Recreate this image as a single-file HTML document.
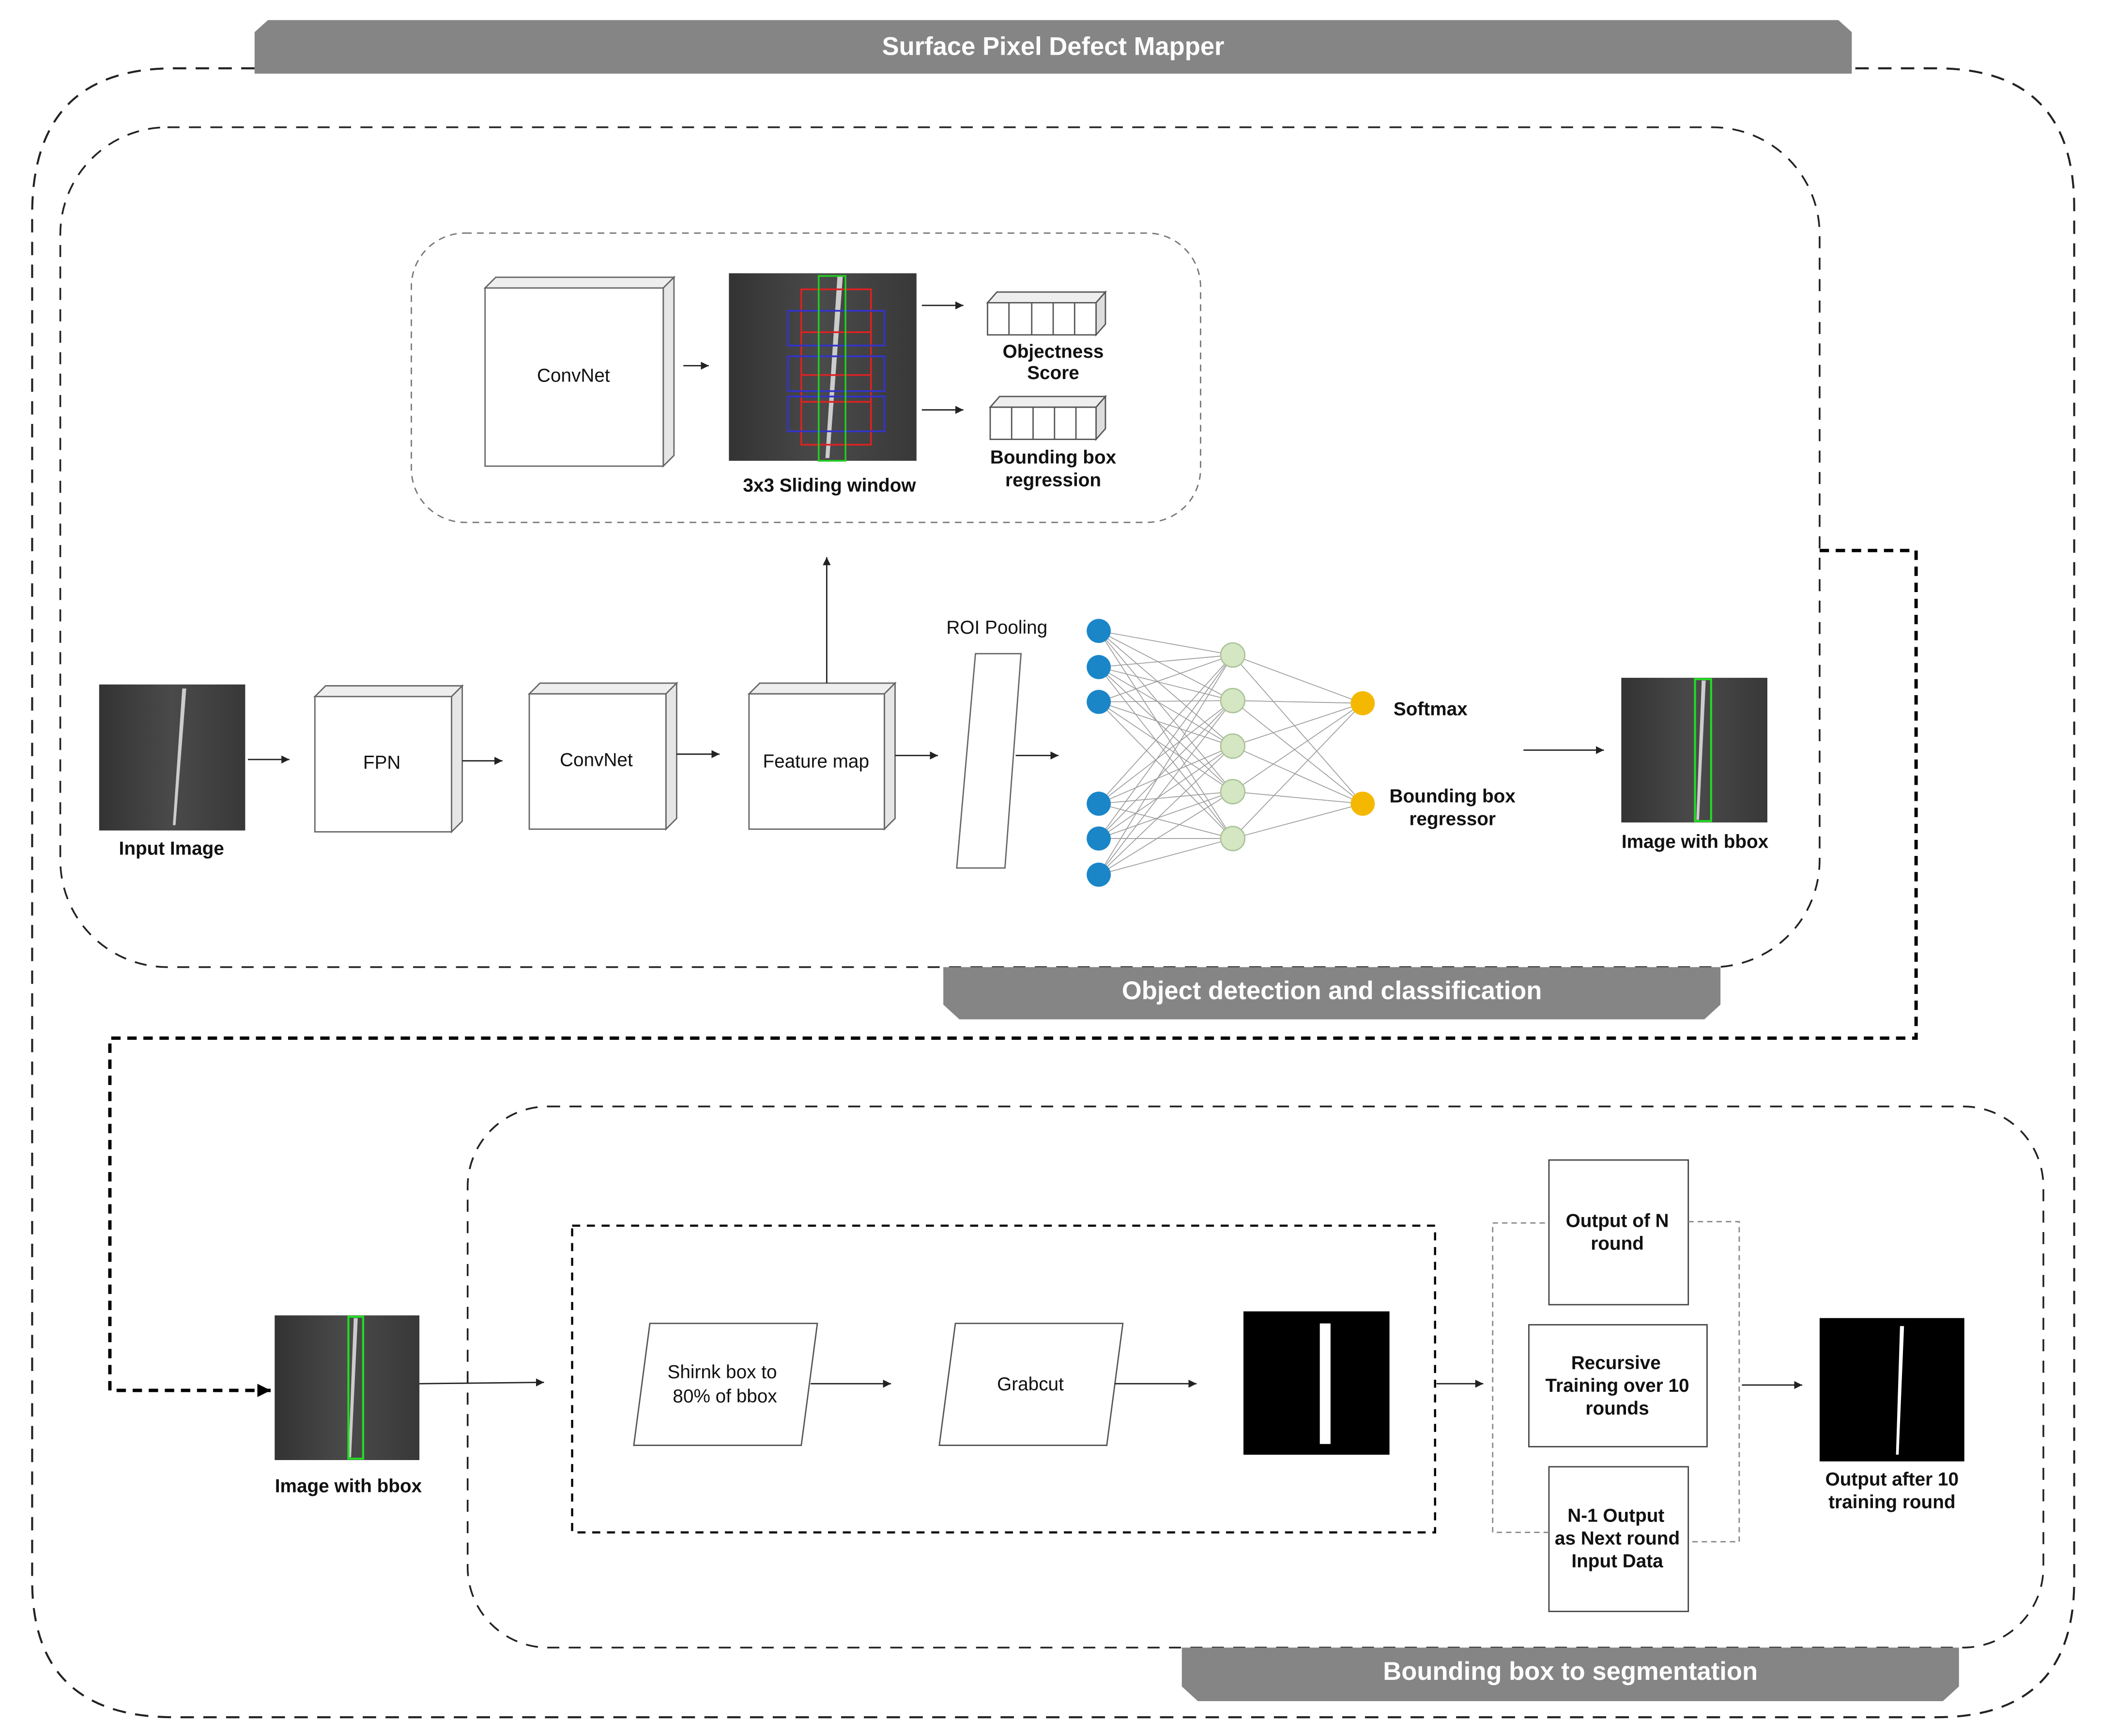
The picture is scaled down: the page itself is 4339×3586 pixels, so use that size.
<!DOCTYPE html>
<html><head><meta charset="utf-8"><style>
html,body{margin:0;padding:0;background:#fff}
svg{display:block}
text{font-family:"Liberation Sans",sans-serif;fill:#111}
</style></head><body>
<svg width="4339" height="3586" viewBox="0 0 1568 1296" preserveAspectRatio="none" xmlns="http://www.w3.org/2000/svg">
<defs>
<marker id="a" markerWidth="8" markerHeight="8" refX="6" refY="3" orient="auto" markerUnits="userSpaceOnUse"><path d="M0,0 L6,3 L0,6 z" fill="#222"/></marker>
<marker id="b" markerWidth="14" markerHeight="14" refX="10" refY="5" orient="auto" markerUnits="userSpaceOnUse"><path d="M0,0 L10,5 L0,10 z" fill="#000"/></marker>
<linearGradient id="g" x1="0" x2="1"><stop offset="0" stop-color="#333"/><stop offset="0.5" stop-color="#4a4a4a"/><stop offset="1" stop-color="#383838"/></linearGradient>
</defs>
<rect width="1568" height="1296" fill="#fff"/>

<path d="M190,51 L130,51 Q24,51 24,160 L24,1180 Q24,1282 130,1282 L1445,1282 Q1548,1282 1548,1180 L1548,155 Q1548,51 1445,51 L1382,51" fill="none" stroke="#222" stroke-width="1.5" stroke-dasharray="10,7"/>
<path d="M190,55 L190,24 L200,15 L1372,15 L1382,24 L1382,55 z" fill="#858585"/>
<text x="786" y="41" text-anchor="middle" font-size="19" font-weight="bold" style="fill:#fff">Surface Pixel Defect Mapper</text>

<rect x="45" y="95" width="1313" height="627" rx="80" fill="none" stroke="#222" stroke-width="1.3" stroke-dasharray="9,7"/>
<path d="M704,722 L1284,722 L1284,750 L1272,761 L716,761 L704,750 z" fill="#858585"/>
<text x="994" y="746" text-anchor="middle" font-size="19" font-weight="bold" style="fill:#fff">Object detection and classification</text>

<rect x="307" y="174" width="589" height="216" rx="40" fill="none" stroke="#777" stroke-width="1" stroke-dasharray="5,4"/>

<g fill="#fff" stroke="#666" stroke-width="1">
<path d="M362,215 L370,207 L503,207 L495,215 z" fill="#eee"/><path d="M495,215 L503,207 L503,340 L495,348 z" fill="#e6e6e6"/><rect x="362" y="215" width="133" height="133"/>
<path d="M235,520 L243,512 L345,512 L337,520 z" fill="#eee"/><path d="M337,520 L345,512 L345,613 L337,621 z" fill="#e6e6e6"/><rect x="235" y="520" width="102" height="101"/>
<path d="M395,518 L403,510 L505,510 L497,518 z" fill="#eee"/><path d="M497,518 L505,510 L505,611 L497,619 z" fill="#e6e6e6"/><rect x="395" y="518" width="102" height="101"/>
<path d="M559,518 L567,510 L668,510 L660,518 z" fill="#eee"/><path d="M660,518 L668,510 L668,611 L660,619 z" fill="#e6e6e6"/><rect x="559" y="518" width="101" height="101"/>
<path d="M728,488 L762,488 L750,648 L714,648 z"/>
</g>
<text x="428" y="285" text-anchor="middle" font-size="14">ConvNet</text>
<text x="285" y="574" text-anchor="middle" font-size="14">FPN</text>
<text x="445" y="572" text-anchor="middle" font-size="14">ConvNet</text>
<text x="609" y="573" text-anchor="middle" font-size="14">Feature map</text>
<text x="744" y="473" text-anchor="middle" font-size="14">ROI Pooling</text>

<rect x="544" y="204" width="140" height="140" fill="url(#g)"/>
<path d="M625,206 L629,206 L619,342 L616,342 z" fill="#ccc"/>
<g fill="none" stroke-width="1.3">
<rect x="598" y="216" width="52" height="116" stroke="#d22"/>
<line x1="598" y1="248" x2="650" y2="248" stroke="#d22"/><line x1="598" y1="280" x2="650" y2="280" stroke="#d22"/><line x1="598" y1="300" x2="650" y2="300" stroke="#d22"/>
<rect x="588" y="232" width="72" height="26" stroke="#33c"/><rect x="588" y="266" width="72" height="26" stroke="#33c"/><rect x="588" y="296" width="72" height="26" stroke="#33c"/>
<rect x="611" y="206" width="20" height="138" stroke="#2c2"/>
</g>
<text x="619" y="367" text-anchor="middle" font-size="14" font-weight="bold">3x3 Sliding window</text>

<g fill="#fff" stroke="#555" stroke-width="1">
<path d="M737,226 L744,218 L825,218 L818,226 z" fill="#eee"/><path d="M818,226 L825,218 L825,242 L818,250 z" fill="#ddd"/><rect x="737" y="226" width="81" height="24"/>
<line x1="753" y1="226" x2="753" y2="250"/><line x1="770" y1="226" x2="770" y2="250"/><line x1="786" y1="226" x2="786" y2="250"/><line x1="802" y1="226" x2="802" y2="250"/>
<path d="M739,304 L746,296 L825,296 L818,304 z" fill="#eee"/><path d="M818,304 L825,296 L825,320 L818,328 z" fill="#ddd"/><rect x="739" y="304" width="79" height="24"/>
<line x1="755" y1="304" x2="755" y2="328"/><line x1="771" y1="304" x2="771" y2="328"/><line x1="787" y1="304" x2="787" y2="328"/><line x1="803" y1="304" x2="803" y2="328"/>
</g>
<text x="786" y="267" text-anchor="middle" font-size="14" font-weight="bold">Objectness</text>
<text x="786" y="283" text-anchor="middle" font-size="14" font-weight="bold">Score</text>
<text x="786" y="346" text-anchor="middle" font-size="14" font-weight="bold">Bounding box</text>
<text x="786" y="363" text-anchor="middle" font-size="14" font-weight="bold">regression</text>

<g stroke="#222" stroke-width="1" marker-end="url(#a)">
<line x1="510" y1="273" x2="529" y2="273"/>
<line x1="688" y1="228" x2="719" y2="228"/>
<line x1="688" y1="306" x2="719" y2="306"/>
<line x1="617" y1="510" x2="617" y2="416"/>
<line x1="185" y1="567" x2="216" y2="567"/>
<line x1="345" y1="568" x2="375" y2="568"/>
<line x1="505" y1="563" x2="537" y2="563"/>
<line x1="668" y1="564" x2="700" y2="564"/>
<line x1="758" y1="564" x2="790" y2="564"/>
<line x1="1137" y1="560" x2="1197" y2="560"/>
</g>

<rect x="74" y="511" width="109" height="109" fill="url(#g)"/>
<path d="M136,514 L139,514 L131,616 L129,616 z" fill="#ccc"/>
<text x="128" y="638" text-anchor="middle" font-size="14" font-weight="bold">Input Image</text>

<g stroke="#999" stroke-width="0.6">
<line x1="820" y1="471" x2="920" y2="489"/><line x1="820" y1="471" x2="920" y2="523"/><line x1="820" y1="471" x2="920" y2="557"/><line x1="820" y1="471" x2="920" y2="591"/><line x1="820" y1="471" x2="920" y2="626"/>
<line x1="820" y1="498" x2="920" y2="489"/><line x1="820" y1="498" x2="920" y2="523"/><line x1="820" y1="498" x2="920" y2="557"/><line x1="820" y1="498" x2="920" y2="591"/><line x1="820" y1="498" x2="920" y2="626"/>
<line x1="820" y1="524" x2="920" y2="489"/><line x1="820" y1="524" x2="920" y2="523"/><line x1="820" y1="524" x2="920" y2="557"/><line x1="820" y1="524" x2="920" y2="591"/><line x1="820" y1="524" x2="920" y2="626"/>
<line x1="820" y1="600" x2="920" y2="489"/><line x1="820" y1="600" x2="920" y2="523"/><line x1="820" y1="600" x2="920" y2="557"/><line x1="820" y1="600" x2="920" y2="591"/><line x1="820" y1="600" x2="920" y2="626"/>
<line x1="820" y1="626" x2="920" y2="489"/><line x1="820" y1="626" x2="920" y2="523"/><line x1="820" y1="626" x2="920" y2="557"/><line x1="820" y1="626" x2="920" y2="591"/><line x1="820" y1="626" x2="920" y2="626"/>
<line x1="820" y1="653" x2="920" y2="489"/><line x1="820" y1="653" x2="920" y2="523"/><line x1="820" y1="653" x2="920" y2="557"/><line x1="820" y1="653" x2="920" y2="591"/><line x1="820" y1="653" x2="920" y2="626"/>
<line x1="920" y1="489" x2="1017" y2="525"/><line x1="920" y1="523" x2="1017" y2="525"/><line x1="920" y1="557" x2="1017" y2="525"/><line x1="920" y1="591" x2="1017" y2="525"/><line x1="920" y1="626" x2="1017" y2="525"/>
<line x1="920" y1="489" x2="1017" y2="600"/><line x1="920" y1="523" x2="1017" y2="600"/><line x1="920" y1="557" x2="1017" y2="600"/><line x1="920" y1="591" x2="1017" y2="600"/><line x1="920" y1="626" x2="1017" y2="600"/>
</g>
<g fill="#1a86c8"><circle cx="820" cy="471" r="9"/><circle cx="820" cy="498" r="9"/><circle cx="820" cy="524" r="9"/><circle cx="820" cy="600" r="9"/><circle cx="820" cy="626" r="9"/><circle cx="820" cy="653" r="9"/></g>
<g fill="#d5e6c3" stroke="#aac49a"><circle cx="920" cy="489" r="9"/><circle cx="920" cy="523" r="9"/><circle cx="920" cy="557" r="9"/><circle cx="920" cy="591" r="9"/><circle cx="920" cy="626" r="9"/></g>
<g fill="#f5b800"><circle cx="1017" cy="525" r="9"/><circle cx="1017" cy="600" r="9"/></g>
<text x="1040" y="534" font-size="14" font-weight="bold">Softmax</text>
<text x="1084" y="599" text-anchor="middle" font-size="14" font-weight="bold">Bounding box</text>
<text x="1084" y="616" text-anchor="middle" font-size="14" font-weight="bold">regressor</text>

<rect x="1210" y="506" width="109" height="108" fill="url(#g)"/>
<path d="M1270,508 L1273,508 L1268,612 L1266,612 z" fill="#ccc"/>
<rect x="1265" y="507" width="12" height="106" fill="none" stroke="#2d2" stroke-width="1.5"/>
<text x="1265" y="633" text-anchor="middle" font-size="14" font-weight="bold">Image with bbox</text>

<path d="M1358,411 L1430,411 L1430,775 L82,775 L82,1038 L202,1038" fill="none" stroke="#000" stroke-width="2.5" stroke-dasharray="7,5" marker-end="url(#b)"/>

<rect x="349" y="826" width="1176" height="404" rx="60" fill="none" stroke="#222" stroke-width="1.3" stroke-dasharray="9,7"/>
<path d="M882,1230 L1462,1230 L1462,1259 L1450,1270 L894,1270 L882,1259 z" fill="#858585"/>
<text x="1172" y="1254" text-anchor="middle" font-size="19" font-weight="bold" style="fill:#fff">Bounding box to segmentation</text>

<rect x="205" y="982" width="108" height="108" fill="url(#g)"/>
<path d="M264,984 L267,984 L262,1088 L260,1088 z" fill="#ccc"/>
<rect x="260" y="983" width="11" height="106" fill="none" stroke="#2d2" stroke-width="1.5"/>
<text x="260" y="1114" text-anchor="middle" font-size="14" font-weight="bold">Image with bbox</text>

<rect x="427" y="915" width="644" height="229" fill="none" stroke="#000" stroke-width="1.6" stroke-dasharray="6,5"/>
<g fill="#fff" stroke="#555" stroke-width="1">
<path d="M485,988 L610,988 L598,1079 L473,1079 z"/>
<path d="M713,988 L838,988 L826,1079 L701,1079 z"/>
</g>
<text x="539" y="1029" text-anchor="middle" font-size="14">Shirnk box to</text>
<text x="541" y="1047" text-anchor="middle" font-size="14">80% of bbox</text>
<text x="769" y="1038" text-anchor="middle" font-size="14">Grabcut</text>
<rect x="928" y="979" width="109" height="107" fill="#000"/>
<rect x="985" y="988" width="8" height="90" fill="#fff"/>

<g stroke="#222" stroke-width="1" marker-end="url(#a)">
<line x1="313" y1="1033" x2="406" y2="1032"/>
<line x1="605" y1="1033" x2="665" y2="1033"/>
<line x1="832" y1="1033" x2="893" y2="1033"/>
<line x1="1072" y1="1033" x2="1107" y2="1033"/>
<line x1="1300" y1="1034" x2="1345" y2="1034"/>
</g>

<g fill="#fff" stroke="#444" stroke-width="1">
<rect x="1156" y="866" width="104" height="108"/>
<rect x="1141" y="989" width="133" height="91"/>
<rect x="1156" y="1095" width="104" height="108"/>
</g>
<g fill="none" stroke="#888" stroke-width="1" stroke-dasharray="4,3">
<path d="M1156,1144 L1114,1144 L1114,913 L1154,913"/>
<path d="M1260,912 L1298,912 L1298,1151 L1262,1151"/>
</g>
<text x="1207" y="916" text-anchor="middle" font-size="14" font-weight="bold">Output of N</text>
<text x="1207" y="933" text-anchor="middle" font-size="14" font-weight="bold">round</text>
<text x="1206" y="1022" text-anchor="middle" font-size="14" font-weight="bold">Recursive</text>
<text x="1207" y="1039" text-anchor="middle" font-size="14" font-weight="bold">Training over 10</text>
<text x="1207" y="1056" text-anchor="middle" font-size="14" font-weight="bold">rounds</text>
<text x="1206" y="1136" text-anchor="middle" font-size="14" font-weight="bold">N-1 Output</text>
<text x="1207" y="1153" text-anchor="middle" font-size="14" font-weight="bold">as Next round</text>
<text x="1207" y="1170" text-anchor="middle" font-size="14" font-weight="bold">Input Data</text>

<rect x="1358" y="984" width="108" height="107" fill="#000"/>
<path d="M1418,990 L1421,990 L1417,1086 L1415,1086 z" fill="#fff"/>
<text x="1412" y="1109" text-anchor="middle" font-size="14" font-weight="bold">Output after 10</text>
<text x="1412" y="1126" text-anchor="middle" font-size="14" font-weight="bold">training round</text>
</svg>
</body></html>
